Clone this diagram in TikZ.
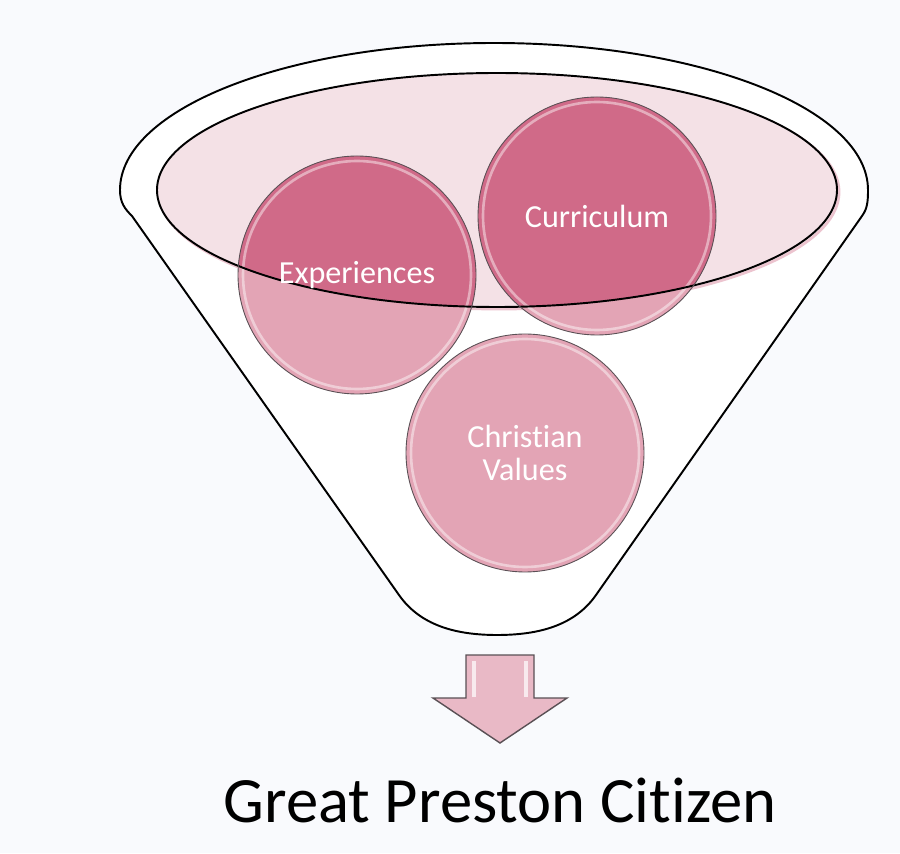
\documentclass[tikz,border=0pt]{standalone}
\usepackage{fontspec}
\setmainfont{Carlito}[Ligatures=NoCommon]
\usetikzlibrary{positioning}
\definecolor{pBack}{RGB}{249,250,253}
\definecolor{pMouth}{RGB}{244,225,230}
\definecolor{pShade}{RGB}{236,196,207}
\definecolor{pDark}{RGB}{208,106,136}
\definecolor{pLight}{RGB}{227,164,181}
\definecolor{pArrow}{RGB}{233,185,198}
\definecolor{pEdge}{RGB}{90,80,85}
\tikzstyle{funnel} = [draw=black, fill=white, line width=1.1pt, line join=round]
\tikzstyle{bubble} = [circle, draw=pEdge, line width=0.5pt, minimum size=4.76cm,
inner sep=0pt, text=white, align=center, font=\fontsize{18.3}{19}\selectfont]
\tikzstyle{shine}  = [draw=white, opacity=0.45, line width=1.5pt]

\begin{document}
\begin{tikzpicture}[x=0.02cm, y=0.02cm]
  \useasboundingbox[fill=pBack] (0,0) rectangle (900,853);

  % funnel body
  \draw[funnel] (868,663) arc[start angle=0, end angle=180, x radius=374, y radius=147]
    .. controls (120,650) and (125,644) .. (132,637) -- (399,258)
    .. controls (420,228) and (455,218) .. (497,218)
    .. controls (540,218) and (575,228) .. (596,258) -- (862,637)
    .. controls (867,644) and (868,650) .. (868,663) -- cycle;

  % mouth of the funnel
  \coordinate (mouth) at (497,663);
  \draw[pShade, line width=1.6pt] (499,661) ellipse [x radius=340, y radius=117];
  \fill[pMouth] (mouth) ellipse [x radius=340, y radius=117];

  \coordinate (cExp) at (357,578);
  \coordinate (cCur) at (597,637);
  \coordinate (cVal) at (525,400);

  \foreach \c in {cExp,cCur,cVal}
    \fill[pLight] (\c) circle [radius=119];
  \begin{scope}
    \clip (mouth) ellipse [x radius=340, y radius=117];
    \foreach \c in {cExp,cCur}
      \fill[pDark] (\c) circle [radius=119];
  \end{scope}
  \foreach \c in {cExp,cCur,cVal}
    \draw[shine] (\c) circle [radius=114];

  \draw[black, line width=1.1pt] (mouth) ellipse [x radius=340, y radius=117];

  \node(Exp) [bubble] at (cExp) {Experiences};
  \node(Cur) [bubble] at (cCur) {Curriculum};
  \node(Val) [bubble] at (cVal) {Christian\\Values};

  % arrow out of the funnel
  \draw[fill=pArrow, draw=pEdge, line width=0.8pt, line join=miter]
    (466,198) -- (534,198) -- (534,155) -- (567,155) -- (500,110)
    -- (433,155) -- (466,155) -- cycle;
  \draw[shine, opacity=0.7, line width=2pt] (474,192) -- (474,156);
  \draw[shine, opacity=0.7, line width=2pt] (526,192) -- (526,156);

  \node(Gpc) [anchor=base, font=\fontsize{36.8}{40}\selectfont] at (500,31)
    {Great Preston Citizen};
\end{tikzpicture}
\end{document}
